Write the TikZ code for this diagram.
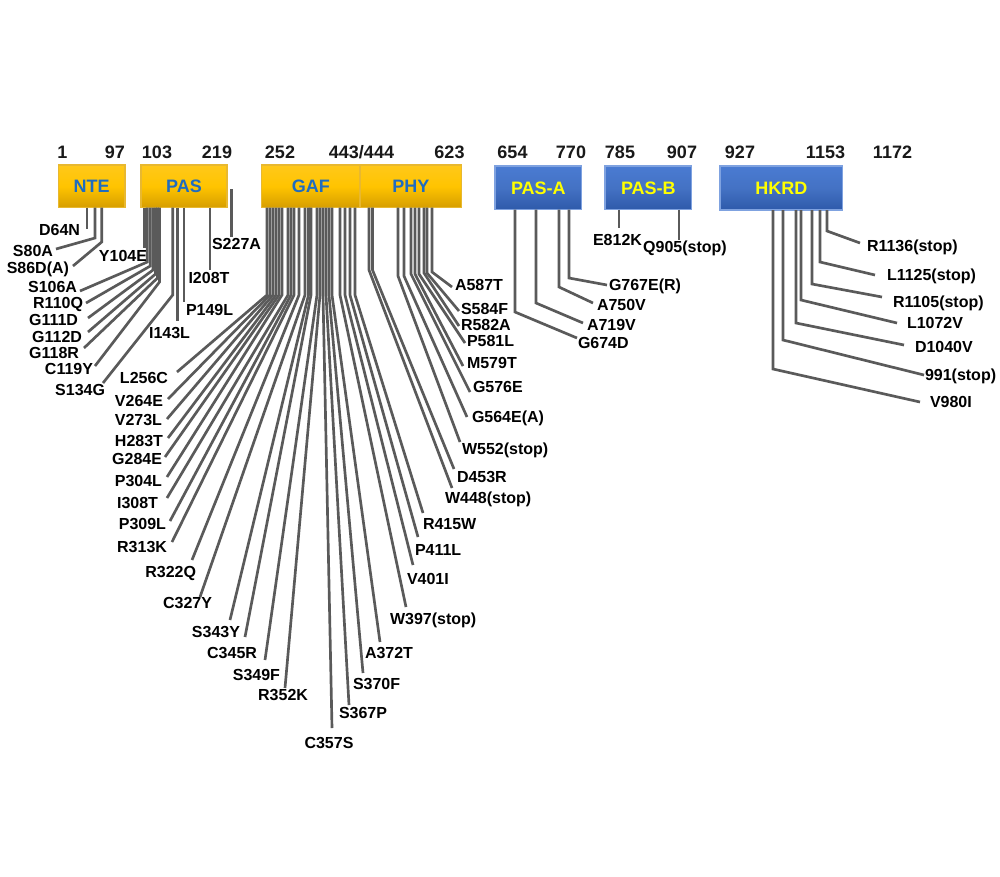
\documentclass[tikz,border=0pt]{standalone}
\usepackage{fontspec}
\setmainfont{Liberation Sans}
\usetikzlibrary{backgrounds}
\definecolor{mline}{HTML}{5A5A5A}
\definecolor{bbgray}{HTML}{A6A6A6}
\definecolor{ytop}{HTML}{FFC81A}
\definecolor{ymid}{HTML}{FFC400}
\definecolor{ybot}{HTML}{D69E00}
\definecolor{ybord}{HTML}{E8B830}
\definecolor{btop}{HTML}{4A7BD2}
\definecolor{bmid}{HTML}{4472C4}
\definecolor{bbot}{HTML}{2E5AAA}
\definecolor{bbord}{HTML}{7FA2E0}
\definecolor{domblue}{HTML}{1F6CC0}
\definecolor{domyel}{HTML}{FFFF00}
\tikzset{
  lab/.style={font=\fontsize{12}{14}\selectfont\bfseries, inner sep=0pt, outer sep=0pt, text height=8.6pt, text depth=0pt, text=black},
  num/.style={font=\fontsize{13.5}{16}\selectfont\bfseries, inner sep=0pt, anchor=base, text=black!90},
  dom/.style={font=\fontsize{13.5}{16}\selectfont\bfseries, inner sep=0pt, outer sep=0pt, rectangle, text height=9.7pt, text depth=0pt},
  ybox/.style={dom, draw=ybord, line width=0.8pt, top color=ytop, bottom color=ybot, middle color=ymid, text=domblue},
  bbox/.style={dom, draw=bbord, line width=0.8pt, top color=btop, bottom color=bbot, middle color=bmid, text=domyel},
  mut/.style={draw=mline, line width=2pt},
  backbone/.style={draw=bbgray, line width=4.6pt},
}
\begin{document}
\begin{tikzpicture}[x=0.75pt,y=-0.75pt]
\useasboundingbox (0,0) rectangle (1000,876);
\fill[white] (0,0) rectangle (1000,876);

% domain boxes
\node[ybox, minimum width=66.7*0.75pt, minimum height=42.5*0.75pt] (NTE) at (91.65,186.25) {NTE};
\node[ybox, minimum width=86*0.75pt, minimum height=42.5*0.75pt] (PAS) at (184,186.25) {PAS};
\node[ybox, minimum width=98.3*0.75pt, minimum height=42.5*0.75pt] (GAF) at (310.85,186.25) {GAF};
\node[ybox, minimum width=101.7*0.75pt, minimum height=42.5*0.75pt] (PHY) at (410.85,186.25) {PHY};
\node[bbox, minimum width=86.7*0.75pt, minimum height=43.5*0.75pt] (PASA) at (538.35,187.75) {PAS-A};
\node[bbox, minimum width=86.7*0.75pt, minimum height=43.5*0.75pt] (PASB) at (648.35,187.75) {PAS-B};
\node[bbox, minimum width=122.7*0.75pt, minimum height=44*0.75pt] (HKRD) at (781.35,188) {HKRD};

% backbone
\coordinate (bbstart) at (58.3,186.5);
\coordinate (bbend) at (871.7,186.5);
\begin{scope}[on background layer]
\draw[backbone] (bbstart) -- (bbend);
\end{scope}

% residue numbers
\foreach \t/\x [count=\k] in {1/62.5, 97/115, 103/157, 219/217, 252/280, 623/449.5, 654/512.5, 770/571, 785/620, 907/682, 927/740, 1153/825.5, 1172/892.5}
  \node[num] (n\k) at (\x,158.5) {\t};
\node[num] (n99) at (361.5,158.5) {443/444};

% mutations: x / top y / bend y / end x / end y / text / anchor / label x / label y
\foreach \x/\yt/\yb/\xe/\ye/\txt/\anc/\lx/\ly [count=\i] in {
  87/207.5/229/87/229/D64N/east/80/230,
  95/207.5/238/56/249/S80A/east/53/251,
  101.7/207.5/242/73/266/S86D(A)/east/69/268,
  144.3/207.5/248/144.3/248/Y104E/east/147/256,
  147.3/207.5/262/80/291/S106A/east/77/287,
  150.3/207.5/266/86/303/R110Q/east/83/303,
  153/207.5/270/88/318/G111D/east/78/320,
  155.5/207.5/274/88/332/G112D/east/82/337,
  157.5/207.5/278/84/348/G118R/east/79/353,
  159.5/207.5/282/95/366/C119Y/east/93/369,
  172.7/207.5/295/103/383/S134G/east/105/390,
  177.7/207.5/321/177.7/321/I143L/east/190/333,
  184/207.5/302/184/302/P149L/west/186/310,
  210/207.5/270/210/270/I208T/north/209/272.5,
  231.7/189/237/231.7/237/S227A/north/236.5/238.5,
  267/207.5/295/177/372/L256C/east/168/378,
  270/207.5/295/168/399/V264E/east/163/401,
  273/207.5/295/167/419/V273L/east/162/420,
  276/207.5/295/168/438/H283T/east/163/441,
  279/207.5/295/165/457/G284E/east/162/459,
  282/207.5/295/167/477/P304L/east/162/481,
  288/207.5/295/167/498/I308T/east/158/503,
  291/207.5/295/170/521/P309L/east/166/524,
  294/207.5/295/172/542/R313K/east/167/547,
  299/207.5/295/192/560/R322Q/east/196/572,
  305/207.5/295/200/597/C327Y/east/212/603,
  308.5/207.5/295/230/620/S343Y/east/240/632,
  311/207.5/295/245/637/C345R/east/257/653,
  317/207.5/295/265/660/S349F/east/280/675,
  320/207.5/295/285/688/R352K/east/308/695,
  323/207.5/295/332/728/C357S/north/329/737.5,
  326/207.5/295/349/705/S367P/west/339/713,
  329/207.5/295/363/673/S370F/west/353/684,
  332/207.5/295/380/642/A372T/west/365/653,
  340/207.5/295/406/607/W397(stop)/west/390/619,
  345/207.5/295/413/565/V401I/west/407/579,
  350/207.5/295/418/537/P411L/west/415/550,
  355/207.5/295/423/513/R415W/west/423/524,
  369/207.5/270/452/488/W448(stop)/west/445/498,
  372.5/207.5/270/454/469/D453R/west/457/477,
  398/207.5/276/460/442/W552(stop)/west/462/449,
  404/207.5/276/467/417/G564E(A)/west/472/417,
  411/207.5/274/470/392/G576E/west/473/387,
  415/207.5/274/463/366/M579T/west/467/363,
  419/207.5/274/465/343/P581L/west/467/341,
  424/207.5/273/459/326/R582A/west/461/324.5,
  427/207.5/273/459/311/S584F/west/461/308.5,
  432/207.5/272/452/287/A587T/west/455/285,
  515/209.5/312/577/338/G674D/west/578/343,
  536/209.5/303/583/323/A719V/west/587/325,
  559/209.5/287/593/303/A750V/west/597/305,
  569/209.5/278/607/285/G767E(R)/west/609/285,
  619/209.5/228/619/228/E812K/north/617.5/234.5,
  679/209.5/240/679/240/Q905(stop)/north/685/241,
  773/210/369/920/402/V980I/west/930/402,
  783/210/340/924/375/991(stop)/west/925/375,
  796/210/323/904/345/D1040V/west/915/347,
  801/210/300/897/323/L1072V/west/907/323,
  812/210/284/882/297/R1105(stop)/west/893/302,
  820/210/262/875/275/L1125(stop)/west/887/275,
  827/210/231/860/243/R1136(stop)/west/867/246}
{
  \coordinate (a\i) at (\x,\yt);
  \coordinate (b\i) at (\x,\yb);
  \coordinate (e\i) at (\xe,\ye);
  \node[lab, anchor=\anc] (l\i) at (\lx,\ly) {\txt};
  \draw[mut] (a\i) -- (b\i) -- (e\i);
}
\end{tikzpicture}
\end{document}
